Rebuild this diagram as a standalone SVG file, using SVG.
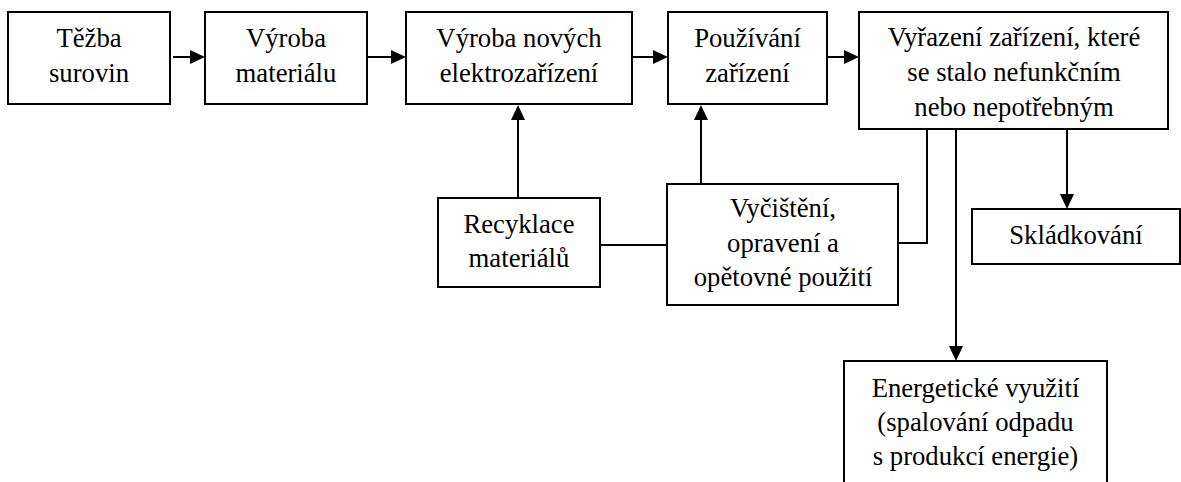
<svg xmlns="http://www.w3.org/2000/svg" width="1181" height="482" viewBox="0 0 1181 482">
  <defs>
    <style>
      .box { fill: #fff; stroke: #000; stroke-width: 2; }
      text { font-family: 'Liberation Serif', 'Times New Roman', serif; font-size: 26.7px; fill: #000; text-anchor: middle; }
      .conn { fill: none; stroke: #000; stroke-width: 2; }
    </style>
    <marker id="ah" markerUnits="userSpaceOnUse" markerWidth="15" markerHeight="14" viewBox="0 0 15 14" refX="0" refY="7" orient="auto">
      <path d="M0,0 L15,7 L0,14 z" fill="#000"/>
    </marker>
  </defs>
  <rect width="1181" height="482" fill="#fff"/>

  <g id="connectors">
    <path class="conn" d="M173,57 H190" marker-end="url(#ah)"/>
    <path class="conn" d="M367,57 H391" marker-end="url(#ah)"/>
    <path class="conn" d="M632,57 H653" marker-end="url(#ah)"/>
    <path class="conn" d="M827,57 H844" marker-end="url(#ah)"/>
    <path class="conn" d="M518,198 V120" marker-end="url(#ah)"/>
    <path class="conn" d="M701,184 V120" marker-end="url(#ah)"/>
    <path class="conn" d="M600,245 H667"/>
    <path class="conn" d="M898,243 H927 V129"/>
    <path class="conn" d="M956,129 V346" marker-end="url(#ah)"/>
    <path class="conn" d="M1067,129 V194" marker-end="url(#ah)"/>
  </g>

  <g id="tezba">
    <rect class="box" x="8" y="12" width="162" height="92"/>
    <text x="89" y="47">Těžba</text>
    <text x="89" y="82">surovin</text>
  </g>
  <g id="vyroba-materialu">
    <rect class="box" x="205" y="12" width="162" height="92"/>
    <text x="286" y="47">Výroba</text>
    <text x="286" y="82">materiálu</text>
  </g>
  <g id="vyroba-elektro">
    <rect class="box" x="406" y="12" width="226" height="92"/>
    <text x="519" y="47">Výroba nových</text>
    <text x="519" y="82">elektrozařízení</text>
  </g>
  <g id="pouzivani">
    <rect class="box" x="668" y="12" width="159" height="92"/>
    <text x="747.5" y="47">Používání</text>
    <text x="747.5" y="82">zařízení</text>
  </g>
  <g id="vyrazeni">
    <rect class="box" x="859" y="12" width="309" height="117"/>
    <text x="1014" y="46">Vyřazení zařízení, které</text>
    <text x="1014" y="81">se stalo nefunkčním</text>
    <text x="1014" y="116">nebo nepotřebným</text>
  </g>
  <g id="recyklace">
    <rect class="box" x="438" y="198" width="162" height="89"/>
    <text x="519" y="233">Recyklace</text>
    <text x="519" y="267">materiálů</text>
  </g>
  <g id="vycisteni">
    <rect class="box" x="667" y="184" width="231" height="121"/>
    <text x="783" y="217">Vyčištění,</text>
    <text x="783" y="252">opravení a</text>
    <text x="783" y="286">opětovné použití</text>
  </g>
  <g id="skladkovani">
    <rect class="box" x="972" y="209" width="208" height="55"/>
    <text x="1076" y="244">Skládkování</text>
  </g>
  <g id="energeticke">
    <rect class="box" x="844" y="361" width="263" height="130"/>
    <text x="975.5" y="397">Energetické využití</text>
    <text x="975.5" y="431">(spalování odpadu</text>
    <text x="975.5" y="465">s produkcí energie)</text>
  </g>
</svg>
